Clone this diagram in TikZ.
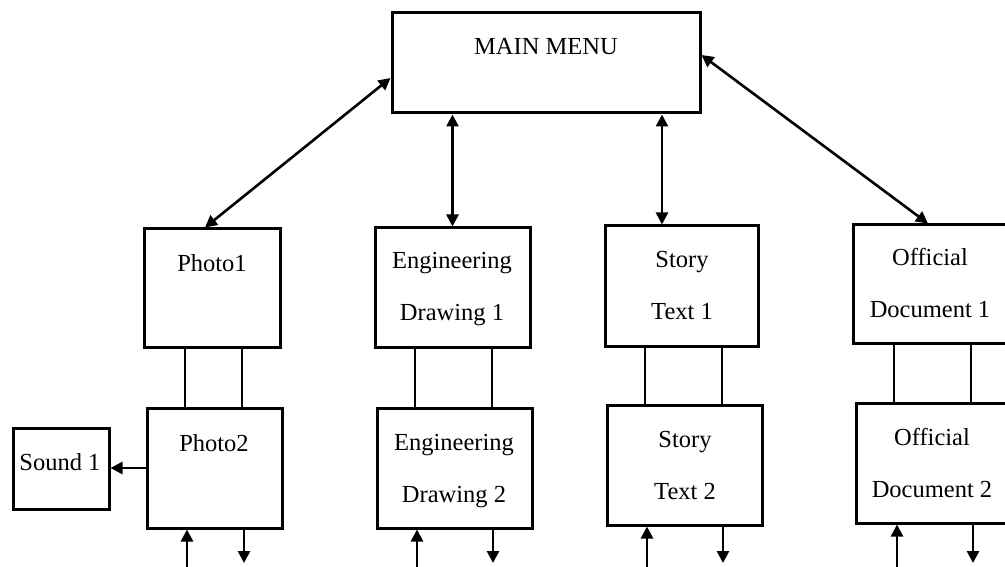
\documentclass[tikz,border=0pt]{standalone}
\usepackage{fontspec}
\setmainfont{Liberation Serif}
\usetikzlibrary{arrows.meta}
\begin{document}
\begin{tikzpicture}[x=1pt,y=-1pt,
  box/.style 2 args={draw, line width=3pt, inner sep=0pt,
    minimum width=#1, minimum height=#2},
  lbl/.style={anchor=base, align=center, inner sep=0pt,
    font=\fontsize{24.5}{52}\selectfont},
  link/.style={line width=2.6pt},
  tip/.tip={Triangle[length=12pt,width=12pt]},
  oneway/.style={link, -tip},
  twoway/.style={link, tip-tip}]
\clip (0,0) rectangle (1005,567);

% menu and screen boxes
\node[box={308}{100}] (main) at (546,63) {};
\node[box={136}{118}] (p1) at (212,288) {};
\node[box={135}{120}] (p2) at (214.5,468) {};
\node[box={96}{81}]   (s1) at (61,468.5) {};
\node[box={155}{119}] (e1) at (452.5,287.5) {};
\node[box={155}{120}] (e2) at (454.5,468) {};
\node[box={153}{120}] (t1) at (681.5,286) {};
\node[box={155}{120}] (t2) at (684.5,465) {};
\node[box={154}{118}] (o1) at (930,284) {};
\node[box={152}{120}] (o2) at (932,463) {};

% box captions (base anchor sits on the last line)
\node[lbl] (main-l) at (546,55) {MAIN MENU};
\node[lbl] (p1-l) at (212,271) {Photo1};
\node[lbl] (p2-l) at (214,451) {Photo2};
\node[lbl] (s1-l) at (60,470) {Sound 1};
\node[lbl] (e1-l) at (452,320) {Engineering\\Drawing 1};
\node[lbl] (e2-l) at (454,502) {Engineering\\Drawing 2};
\node[lbl] (t1-l) at (682,319) {Story\\Text 1};
\node[lbl] (t2-l) at (685,499) {Story\\Text 2};
\node[lbl] (o1-l) at (930,317) {Official\\Document 1};
\node[lbl] (o2-l) at (932,497) {Official\\Document 2};

% links from the main menu
\draw[twoway] ([yshift=-15pt]main.west) -- ([xshift=-7pt]p1.north);
\draw[twoway] (e1.north |- main.south) -- (e1.north);
\draw[twoway] ([xshift=-19.5pt]t1.north |- main.south) -- ([xshift=-19.5pt]t1.north);
\draw[twoway] ([yshift=8pt]main.east) -- ([xshift=-2pt]o1.north);

% paired connectors between first and second screens
\foreach \up/\dn/\a/\b in {p1/p2/-27/30, e1/e2/-37.5/39.5, t1/t2/-36.5/40.5, o1/o2/-36/41}{
  \draw[link] ([xshift=\a pt]\up.south) -- ([xshift=\a pt]\up.south |- \dn.north);
  \draw[link] ([xshift=\b pt]\up.south) -- ([xshift=\b pt]\up.south |- \dn.north);
}

% sound branch
\draw[oneway] (p2.west) -- (p2.west -| s1.east);

% entry and exit arrows below the second screens
\coordinate (floor) at (0,575);
\coordinate (tipfloor) at (0,563);
\foreach \n/\a/\b in {p2/-27.5/29.5, e2/-37.5/38.5, t2/-37.5/38.5, o2/-35/41}{
  \draw[oneway] ([xshift=\a pt]\n.south |- floor) -- ([xshift=\a pt]\n.south);
  \draw[oneway] ([xshift=\b pt]\n.south) -- ([xshift=\b pt]\n.south |- tipfloor);
}
\end{tikzpicture}
\end{document}
